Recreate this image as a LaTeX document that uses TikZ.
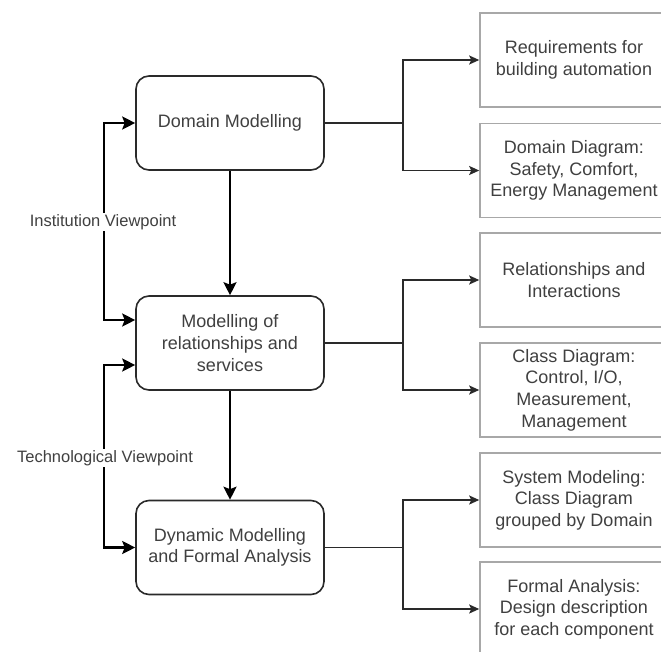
\documentclass[tikz,border=0pt]{standalone}
\usepackage{fontspec}
\setmainfont{Liberation Sans}
\usetikzlibrary{arrows.meta}
\definecolor{txt}{HTML}{404040}
\definecolor{dark}{HTML}{2A2A2A}
\definecolor{lightb}{HTML}{A8A8A8}
\tikzset{
  mainbox/.style={draw=dark, line width=1.6pt, rounded corners=13pt, minimum width=188pt, minimum height=94pt, inner sep=0pt, align=center, text=txt, font=\fontsize{18}{21.6}\selectfont},
  outbox/.style={draw=lightb, line width=1.6pt, minimum width=188pt, minimum height=94pt, inner sep=0pt, align=center, text=txt, font=\fontsize{18}{21.6}\selectfont},
  bigarrow/.style={draw=black, line width=2.2pt, -{Stealth[length=13pt,width=13pt,inset=2.5pt]}},
  biarrow/.style={draw=black, line width=2.2pt, {Stealth[length=13pt,width=13pt,inset=2.5pt]}-{Stealth[length=13pt,width=13pt,inset=2.5pt]}},
  smallarrow/.style={draw=dark, line width=1.4pt, -{Stealth[length=10pt,width=9pt,inset=2pt]}},
  vplabel/.style={fill=white, inner sep=1pt, text=txt, font=\fontsize{16.5}{19}\selectfont}
}
\begin{document}
\begin{tikzpicture}[x=1pt,y=-1pt]
\useasboundingbox (0,0) rectangle (661,651);
\clip (0,0) rectangle (661,651);
\fill[white] (0,0) rectangle (661,651);

% left column
\node[mainbox] (dm) at (230,123) {Domain Modelling};
\node[mainbox] (mr) at (230,343) {Modelling of\\relationships and\\services};
\node[mainbox] (dy) at (230,547.5) {Dynamic Modelling\\and Formal Analysis};

% right column
\node[outbox] (r1) at (574,60) {Requirements for\\building automation};
\node[outbox] (r2) at (574,170.5) {Domain Diagram:\\Safety, Comfort,\\Energy Management};
\node[outbox] (r3) at (574,280) {Relationships and\\Interactions};
\node[outbox] (r4) at (574,390) {Class Diagram:\\Control, I/O,\\Measurement,\\Management};
\node[outbox] (r5) at (574,500) {System Modeling:\\Class Diagram\\grouped by Domain};
\node[outbox] (r6) at (574,609) {Formal Analysis:\\Design description\\for each component};

% vertical flow
\draw[bigarrow] (dm.south) -- (mr.north);
\draw[bigarrow] (mr.south) -- (dy.north);

% viewpoint loops
\draw[biarrow] (dm.west) -- ++(-31,0) |- ([yshift=23pt]mr.west);
\draw[biarrow] ([yshift=-22pt]mr.west) -- ++(-31,0) |- (dy.west);
\node[vplabel] (iv) at (103,222) {Institution Viewpoint};
\node[vplabel] (tv) at (105,458) {Technological Viewpoint};

% branches
\draw[smallarrow] (dm.east) -- ++(78,0) |- (r1.west);
\draw[smallarrow] (dm.east) -- ++(78,0) |- (r2.west);
\draw[smallarrow] (mr.east) -- ++(78,0) |- (r3.west);
\draw[smallarrow] (mr.east) -- ++(78,0) |- (r4.west);
\draw[smallarrow] (dy.east) -- ++(78,0) |- (r5.west);
\draw[smallarrow] (dy.east) -- ++(78,0) |- (r6.west);
\end{tikzpicture}
\end{document}
